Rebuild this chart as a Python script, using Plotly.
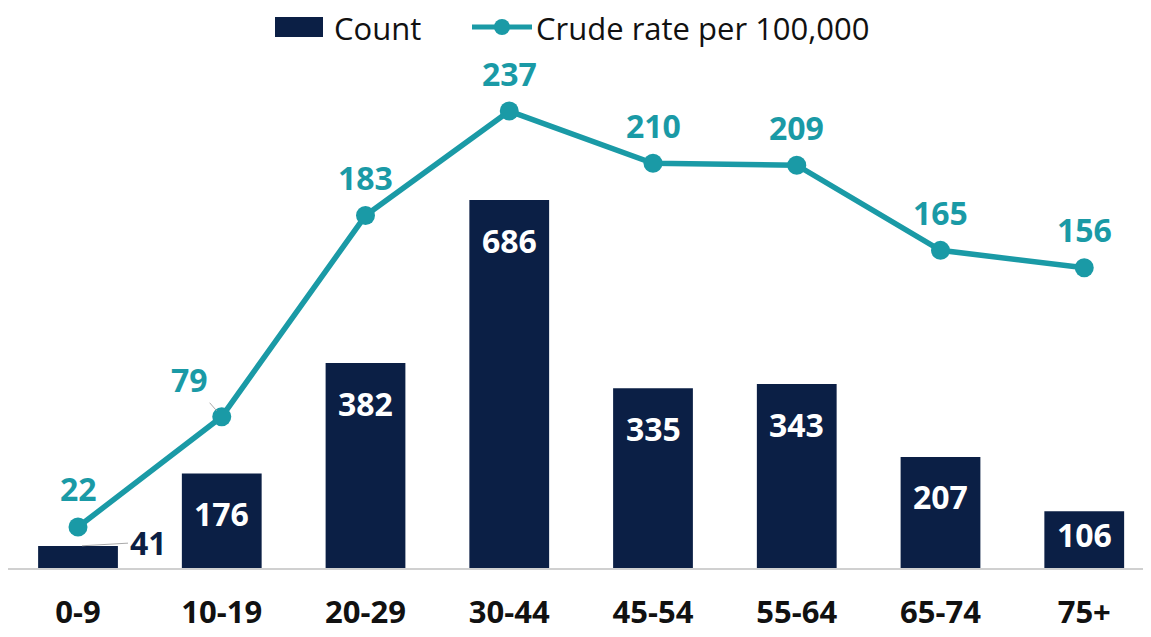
import plotly.graph_objects as go

categories = ["0-9", "10-19", "20-29", "30-44", "45-54", "55-64", "65-74", "75+"]
counts = [41, 176, 382, 686, 335, 343, 207, 106]
rates = [22, 79, 183, 237, 210, 209, 165, 156]
count_name = "Count"
rate_name = "Crude rate per 100,000"

NAVY = "#0b1f45"
TEAL = "#1a9aa6"
FONT = "Open Sans"

W, H = 1151, 637
ML, MR, MT, MB = 0, 0, 52, 77
PW, PH = W - ML - MR, H - MT - MB


def px(fx):
    return (fx - ML) / PW


def py(fy):
    return (H - MB - fy) / PH


fig = go.Figure()
fig.add_trace(go.Bar(
    x=categories, y=counts, name=count_name,
    marker=dict(color=NAVY, line=dict(width=0)),
    width=0.555, yaxis="y",
))
fig.add_trace(go.Scatter(
    x=categories, y=rates, name=rate_name,
    mode="lines+markers",
    line=dict(color=TEAL, width=5.5),
    marker=dict(color=TEAL, size=19),
    yaxis="y2",
))

annotations = []
for i, (c, v) in enumerate(zip(categories, counts)):
    if i == 0:
        annotations.append(dict(
            x=c, y=v, xref="x", yref="y", text=f"<b>{v}</b>",
            showarrow=True, ax=70, ay=-4, arrowhead=0, arrowwidth=1,
            arrowcolor="#aaaaaa", standoff=4,
            font=dict(family=FONT, size=32, color=NAVY),
        ))
    else:
        shift = -40 if v > 150 else -23
        annotations.append(dict(
            x=c, y=v, xref="x", yref="y", text=f"<b>{v}</b>",
            showarrow=False, yshift=shift,
            font=dict(family=FONT, size=32, color="white"),
        ))
for i, (c, v) in enumerate(zip(categories, rates)):
    if i == 1:
        annotations.append(dict(
            x=c, y=v, xref="x", yref="y2", text=f"<b>{v}</b>",
            showarrow=True, ax=-32, ay=-37, arrowhead=0, arrowwidth=1,
            arrowcolor="#aaaaaa", standoff=8,
            font=dict(family=FONT, size=32, color=TEAL),
        ))
    else:
        annotations.append(dict(
            x=c, y=v, xref="x", yref="y2", text=f"<b>{v}</b>",
            showarrow=False, yshift=38,
            font=dict(family=FONT, size=32, color=TEAL),
        ))

# manual legend (wide bar swatch, line+marker swatch)
LEG_Y = 20
annotations.append(dict(
    x=px(325), y=py(LEG_Y), xref="paper", yref="paper", text=count_name,
    showarrow=False, xanchor="left", yanchor="middle", borderpad=0,
    font=dict(family=FONT, size=31, color="#111111"),
))
annotations.append(dict(
    x=px(527), y=py(LEG_Y), xref="paper", yref="paper", text=rate_name,
    showarrow=False, xanchor="left", yanchor="middle", borderpad=0,
    font=dict(family=FONT, size=31, color="#111111"),
))
shapes = [
    dict(type="rect", xref="paper", yref="paper",
         x0=px(267), x1=px(315), y0=py(LEG_Y + 9), y1=py(LEG_Y - 11),
         fillcolor=NAVY, line=dict(width=0)),
    dict(type="line", xref="paper", yref="paper",
         x0=px(464), x1=px(524), y0=py(LEG_Y - 1), y1=py(LEG_Y - 1),
         line=dict(color=TEAL, width=5)),
    dict(type="circle", xref="paper", yref="paper",
         x0=px(486), x1=px(502), y0=py(LEG_Y + 7), y1=py(LEG_Y - 9),
         fillcolor=TEAL, line=dict(width=0)),
]

fig.update_layout(
    width=W, height=H,
    margin=dict(l=ML, r=MR, t=MT, b=MB, autoexpand=False),
    paper_bgcolor="white", plot_bgcolor="white",
    font=dict(family=FONT, color="#111111"),
    showlegend=False,
    xaxis=dict(
        range=[-0.487, 7.52], showgrid=False, zeroline=False,
        showline=True, linecolor="#d0d0d0", linewidth=2,
        tickfont=dict(family=FONT, size=31, color="#111111"),
        ticks="", ticklabelstandoff=16,
        tickvals=categories, ticktext=[f"<b>{c}</b>" for c in categories],
    ),
    yaxis=dict(range=[0, 947], visible=False, showgrid=False, zeroline=False),
    yaxis2=dict(range=[0.8, 263.4], visible=False, overlaying="y",
                side="right", showgrid=False, zeroline=False),
    annotations=annotations,
    shapes=shapes,
)

fig.write_html("out.html")
